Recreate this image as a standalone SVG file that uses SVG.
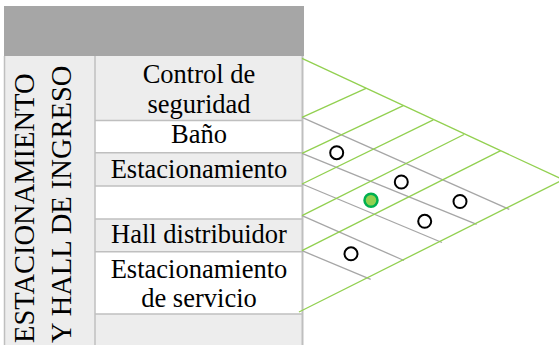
<svg xmlns="http://www.w3.org/2000/svg" width="559" height="345" viewBox="0 0 559 345">
<style>
.lbl{font-family:"Liberation Serif","Times New Roman",serif;font-size:26.5px;fill:#000;text-anchor:middle}
.vlbl{font-family:"Liberation Serif","Times New Roman",serif;font-size:28.5px;fill:#000}
.shade{fill:#ededed}
.plain{fill:#ffffff}
.sep{stroke:#bfbfbf;stroke-width:1.5;fill:none}
.g{stroke:#92d050;stroke-width:1.3;fill:none}
.k{stroke:#a6a6a6;stroke-width:1.3;fill:none}
.dot{fill:#ffffff;stroke:#000;stroke-width:2}
.dotg{fill:#92d050;stroke:#00b050;stroke-width:2.5}
</style>
<rect width="559" height="345" fill="#ffffff"/>
<g id="header"><rect x="4" y="6" width="300" height="50" fill="#a6a6a6"/></g>
<g id="group-label">
<rect class="shade" x="4" y="56" width="91" height="289"/>
<text class="vlbl" transform="translate(33.5,343) rotate(-90)">ESTACIONAMIENTO</text>
<text class="vlbl" transform="translate(70.5,343) rotate(-90)">Y HALL DE INGRESO</text>
</g>
<g id="row-control"><rect class="shade" x="95" y="56" width="208" height="64.5"/>
<text class="lbl" x="199" y="83.3">Control de</text><text class="lbl" x="199" y="112.5">seguridad</text></g>
<g id="row-bano"><rect class="plain" x="95" y="120.5" width="208" height="32.2"/>
<text class="lbl" x="199" y="143.3">Baño</text></g>
<g id="row-estacionamiento"><rect class="shade" x="95" y="152.7" width="208" height="33.3"/>
<text class="lbl" x="199" y="178.3">Estacionamiento</text></g>
<g id="row-empty"><rect class="plain" x="95" y="186" width="208" height="33"/></g>
<g id="row-hall"><rect class="shade" x="95" y="219" width="208" height="32.7"/>
<text class="lbl" x="199" y="243.3">Hall distribuidor</text></g>
<g id="row-servicio"><rect class="plain" x="95" y="251.7" width="208" height="62.3"/>
<text class="lbl" x="199" y="278.3">Estacionamiento</text><text class="lbl" x="199" y="306.7">de servicio</text></g>
<g id="row-last"><rect class="shade" x="95" y="314" width="208" height="31"/></g>
<g id="table-borders">
<line class="sep" x1="4.5" y1="56" x2="4.5" y2="345"/>
<line class="sep" x1="95" y1="56" x2="95" y2="345"/>
<line class="sep" x1="95" y1="120.5" x2="303" y2="120.5"/>
<line class="sep" x1="95" y1="152.7" x2="303" y2="152.7"/>
<line class="sep" x1="95" y1="186" x2="303" y2="186"/>
<line class="sep" x1="95" y1="219" x2="303" y2="219"/>
<line class="sep" x1="95" y1="251.7" x2="303" y2="251.7"/>
<line class="sep" x1="95" y1="314" x2="303" y2="314"/>
<line x1="302.5" y1="56" x2="302.5" y2="345" stroke="#bfbfbf" stroke-width="2"/>
</g>
<g id="connectors">
<line class="k" x1="302" y1="117.3" x2="509.3" y2="209.3"/>
<line class="k" x1="302" y1="153.3" x2="476.7" y2="224.3"/>
<line class="k" x1="302" y1="184" x2="442" y2="242.5"/>
<line class="k" x1="302" y1="215.7" x2="404" y2="260.5"/>
<line class="k" x1="302" y1="250.7" x2="370.7" y2="279.3"/>
<line class="g" x1="302" y1="58.3" x2="563" y2="179.7"/>
<line class="g" x1="563" y1="179.7" x2="299" y2="312"/>
<line class="g" x1="302" y1="117.3" x2="366" y2="88.3"/>
<line class="g" x1="302" y1="153.3" x2="403.3" y2="105.6"/>
<line class="g" x1="302" y1="184" x2="433.3" y2="119.8"/>
<line class="g" x1="302" y1="215.7" x2="464" y2="134.5"/>
<line class="g" x1="302" y1="250.7" x2="500.7" y2="150.7"/>
</g>
<g id="mark-1"><circle class="dot" cx="336.7" cy="152.7" r="6.5"/></g>
<g id="mark-2"><circle class="dot" cx="401.3" cy="182" r="6.5"/></g>
<g id="mark-3"><circle class="dot" cx="460" cy="201.5" r="6.5"/></g>
<g id="mark-4"><circle class="dot" cx="424.7" cy="221.3" r="6.5"/></g>
<g id="mark-5"><circle class="dot" cx="351" cy="253.8" r="6.5"/></g>
<g id="mark-green"><circle class="dotg" cx="371" cy="200.3" r="6.5"/></g>
</svg>
